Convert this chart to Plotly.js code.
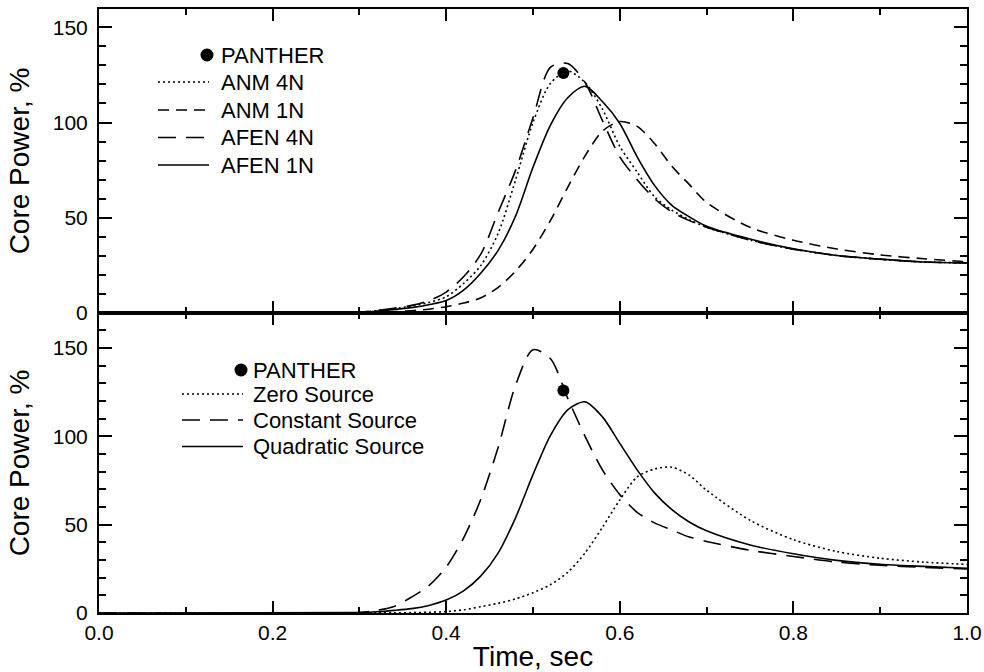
<!DOCTYPE html>
<html>
<head>
<meta charset="utf-8">
<script src="https://cdn.plot.ly/plotly-3.0.1.min.js"></script>
<style>
html,body{margin:0;padding:0;background:#fff;}
#chart{width:984px;height:672px;}
</style>
</head>
<body>
<div id="chart"></div>
<script>
// Shared time grid (sec)
const time = [0, 0.30, 0.32, 0.34, 0.36, 0.38, 0.40, 0.42, 0.44, 0.46, 0.48, 0.50, 0.52, 0.54, 0.56, 0.58, 0.60, 0.62, 0.64, 0.66, 0.68, 0.70, 0.75, 0.80, 0.85, 0.90, 0.95, 1.00];

// Top panel: core power, %
const anm4n  = [0, 0.4, 1.2, 2.3, 3.6, 5.5, 8.5, 15.5, 25, 42, 70, 100, 120.5, 127, 121, 107, 87.5, 74, 61, 54, 49, 45, 38.3, 33.5, 30.2, 28.2, 26.8, 26.3];
const anm1n  = [0, 0.1, 0.3, 0.7, 1.2, 2.0, 3.3, 5.2, 8.0, 13.5, 22, 33.5, 48.5, 66, 82.5, 95.5, 100.5, 98, 89, 77, 67.5, 58, 45, 38.2, 33.6, 30.5, 28.5, 26.9];
const afen4n = [0, 0.5, 1.3, 2.5, 4.0, 6.5, 11, 19, 31, 53, 75, 102.5, 129, 131, 121, 101, 82, 70, 60, 53, 48.5, 45, 38.3, 33.5, 30.2, 28.2, 26.8, 26.3];
const afen1n = [0, 0.3, 1.0, 1.8, 2.8, 4.3, 6.5, 12, 21, 33, 51, 76.5, 98.5, 113, 119, 111, 99.5, 82, 67, 56.5, 50.5, 45.5, 38.8, 33.7, 30.2, 28.3, 26.8, 26.3];

// Bottom panel: core power, %
const zeroSource      = [0, 0, 0.05, 0.1, 0.2, 0.4, 0.8, 1.8, 3.6, 5.5, 8, 11.5, 16, 23, 34, 48.5, 64, 77, 81.5, 82.5, 78, 69.5, 52.5, 41.5, 34.8, 31, 28.8, 27.5];
const constantSource  = [0, 0.3, 1.5, 3.7, 9, 15.5, 26, 42.4, 64.5, 94, 129, 149, 144, 121.5, 100, 81, 67, 57, 51, 47, 43, 40.5, 35.5, 32, 28.8, 27, 25.8, 24.9];
const quadraticSource = [0, 0.3, 0.7, 1.5, 2.5, 4.3, 7.3, 12.5, 21, 34, 54, 78.3, 100.4, 115, 119.5, 111, 96, 81, 68, 58.5, 51.5, 46.5, 38.5, 33.5, 29.8, 27.6, 26.4, 25.3];

// PANTHER reference point
const pantherTime  = [0.535];
const pantherPower = [126];

// Legend labels
const topNames    = ['PANTHER', 'ANM 4N', 'ANM 1N', 'AFEN 4N', 'AFEN 1N'];
const bottomNames = ['PANTHER', 'Zero Source', 'Constant Source', 'Quadratic Source'];

const FONT = 'Liberation Sans, Arial, Helvetica, sans-serif';
const DOT = '2px,3px', MDASH = '11px,7px', LDASH = '18px,10px';

function lineTrace(y, name, dash, xa, ya) {
  return {
    x: time, y: y, name: name, type: 'scatter', mode: 'lines',
    line: {color: '#000', width: 1.6, dash: dash, shape: 'spline', smoothing: 0.8},
    xaxis: xa, yaxis: ya, showlegend: false, hoverinfo: 'skip'
  };
}
function pointTrace(xa, ya) {
  return {
    x: pantherTime, y: pantherPower, name: 'PANTHER', type: 'scatter', mode: 'markers',
    marker: {color: '#000', size: 12, symbol: 'circle'},
    xaxis: xa, yaxis: ya, showlegend: false, hoverinfo: 'skip'
  };
}

const data = [
  pointTrace('x2', 'y2'),
  lineTrace(anm4n,  topNames[1], DOT,   'x2', 'y2'),
  lineTrace(anm1n,  topNames[2], MDASH, 'x2', 'y2'),
  lineTrace(afen4n, topNames[3], LDASH, 'x2', 'y2'),
  lineTrace(afen1n, topNames[4], 'solid', 'x2', 'y2'),
  pointTrace('x', 'y'),
  lineTrace(zeroSource,      bottomNames[1], DOT,   'x', 'y'),
  lineTrace(constantSource,  bottomNames[2], LDASH, 'x', 'y'),
  lineTrace(quadraticSource, bottomNames[3], 'solid', 'x', 'y')
];

const splitY = 0.4967;
const PW = 868, PH = 604, ML = 99, MT = 9;
function px2x(px) { return (px - ML) / PW; }
function py2y(py) { return 1 - (py - MT) / PH; }

function xAxis(extra) {
  return Object.assign({
    range: [0, 1], dtick: 0.2, tickformat: '.1f',
    ticks: 'inside', ticklen: 12, tickwidth: 2, tickcolor: '#000',
    minor: {dtick: 0.1, ticks: 'inside', ticklen: 6, tickwidth: 2, tickcolor: '#000'},
    showline: true, linewidth: 2, linecolor: '#000', mirror: 'allticks',
    showgrid: false, zeroline: false,
    tickfont: {family: FONT, size: 21, color: '#000'}
  }, extra);
}
function yAxis(extra) {
  return Object.assign({
    dtick: 50,
    ticks: 'inside', ticklen: 13, tickwidth: 2, tickcolor: '#000',
    minor: {dtick: 10, ticks: 'inside', ticklen: 7, tickwidth: 2, tickcolor: '#000'},
    showline: true, linewidth: 2, linecolor: '#000', mirror: 'allticks',
    showgrid: false, zeroline: false,
    ticklabelstandoff: 5,
    tickfont: {family: FONT, size: 21, color: '#000'},
    title: {text: 'Core Power, %', font: {family: FONT, size: 28, color: '#000'}, standoff: 15}
  }, extra);
}

// Hand-placed legend blocks (line samples and labels in paper coordinates)
const shapes = [], annotations = [];
function legendBlock(names, styles, lineX0, lineX1, textX, rowY) {
  names.forEach(function(nm, i) {
    const st = styles[i];
    const y = py2y(rowY[i]);
    if (st === 'marker') {
      const cx = lineX1 - 2, r = 6.5;
      shapes.push({type: 'circle', xref: 'paper', yref: 'paper',
        x0: px2x(cx - r), x1: px2x(cx + r), y0: py2y(rowY[i] + r), y1: py2y(rowY[i] - r),
        fillcolor: '#000', line: {width: 0}});
    } else {
      shapes.push({type: 'line', xref: 'paper', yref: 'paper',
        x0: px2x(lineX0), x1: px2x(lineX1), y0: y, y1: y,
        line: {color: '#000', width: 1.6, dash: st}});
    }
    annotations.push({xref: 'paper', yref: 'paper', x: px2x(textX), y: y,
      xanchor: 'left', yanchor: 'middle', showarrow: false, text: nm,
      font: {family: FONT, size: 22, color: '#000'}});
  });
}
legendBlock(topNames, ['marker', DOT, MDASH, LDASH, 'solid'], 158, 209, 219, [55, 82, 110, 137.5, 165]);
legendBlock(bottomNames, ['marker', DOT, LDASH, 'solid'], 182, 243, 251, [370, 394, 420, 446.5]);

const layout = {
  width: 984, height: 672,
  margin: {l: ML, r: 17, t: MT, b: 59},
  paper_bgcolor: '#fff', plot_bgcolor: '#fff',
  font: {family: FONT, color: '#000'},
  showlegend: false,
  xaxis: xAxis({anchor: 'y', domain: [0, 1],
    title: {text: 'Time, sec', font: {family: FONT, size: 28, color: '#000'}, standoff: 4}}),
  xaxis2: xAxis({anchor: 'y2', domain: [0, 1], matches: 'x', showticklabels: false}),
  yaxis: yAxis({anchor: 'x', domain: [0, splitY], range: [0, 169.8]}),
  yaxis2: yAxis({anchor: 'x2', domain: [splitY, 1], range: [0, 159.6]}),
  shapes: shapes,
  annotations: annotations
};

function raiseTicks(gd) {
  // Bring the library-drawn major/minor tick marks to the top of the SVG and restate their stroke
  try {
    const svg = gd.querySelector('svg.main-svg');
    const g = document.createElementNS('http://www.w3.org/2000/svg', 'g');
    g.setAttribute('class', 'raised-ticks');
    svg.appendChild(g);
    gd.querySelectorAll('path.ticks').forEach(function(p){
      p.setAttribute('style', 'stroke:#000;stroke-width:2px;stroke-opacity:1;fill:none;stroke-dasharray:none;opacity:1;shape-rendering:crispEdges;');
      g.appendChild(p);
    });
  } catch (e) {}
}

Plotly.newPlot('chart', data, layout, {displayModeBar: false}).then(function(gd){
  raiseTicks(gd);
});
</script>
</body>
</html>
